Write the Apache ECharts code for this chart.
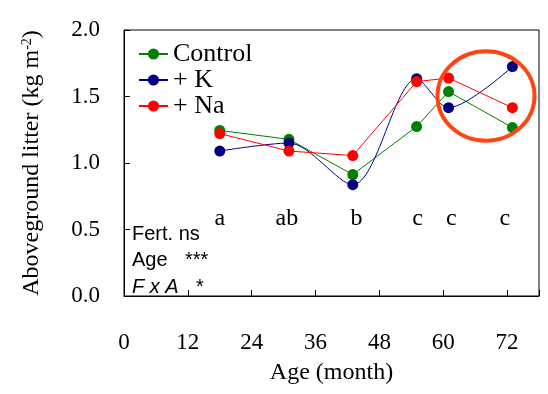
<!DOCTYPE html>
<html>
<head>
<meta charset="utf-8">
<script src="https://cdn.jsdelivr.net/npm/echarts@6/dist/echarts.min.js"></script>
<style>
  html, body { margin: 0; padding: 0; background: #fff; }
  #chart { width: 548px; height: 394px; }
</style>
</head>
<body>
<div id="chart"></div>
<script>
// ages (month) of the sampled stands
const ages = [18, 31, 43, 55, 61, 73]
const control = [1.245, 1.178, 0.913, 1.274, 1.537, 1.266]
const plusK = [1.090, 1.150, 0.837, 1.634, 1.416, 1.725]
const plusNa = [1.221, 1.090, 1.056, 1.612, 1.639, 1.416]

// significance letters above the age groups
const letterAges = [18, 30.6, 43.7, 55.2, 61.5, 71.6]
const letters = ['a', 'ab', 'b', 'c', 'c', 'c']
const letterY = 0.58

const xTicks = [0, 12, 24, 36, 48, 60, 72]

const serif = '"Liberation Serif", "Times New Roman", serif'
const sans = '"Liberation Sans", Arial, sans-serif'

const pairs = vals => ages.map((a, i) => [a, vals[i]])

const chart = echarts.init(document.getElementById('chart'))

const lineSeries = (name, vals, color, smooth) => ({
  name: name,
  type: 'line',
  data: pairs(vals),
  smooth: smooth,
  symbol: 'circle',
  symbolSize: 11,
  color: color,
  lineStyle: { width: 1, color: color },
  itemStyle: { color: color },
  z: 3
})

const annot = (text, x, y, italic) => ({
  type: 'text',
  left: x,
  top: y,
  style: {
    text: text,
    fill: '#000',
    font: (italic ? 'italic ' : '') + '20px ' + sans
  },
  z: 10
})

chart.setOption({
  animation: false,
  grid: {
    left: 124, right: 9, top: 30, bottom: 98,
    show: true, borderColor: '#000', borderWidth: 1
  },
  legend: {
    data: ['Control', '+ K', '+ Na'],
    orient: 'vertical',
    left: 138,
    top: 41,
    padding: 0,
    itemWidth: 29,
    itemHeight: 14,
    itemGap: 0,
    textStyle: { fontFamily: serif, fontSize: 26, lineHeight: 25.5, color: '#000' }
  },
  xAxis: {
    type: 'value',
    min: 0, max: 78, interval: 12,
    name: 'Age (month)',
    nameLocation: 'middle',
    nameGap: 65,
    nameTextStyle: { fontFamily: serif, fontSize: 24, color: '#000' },
    axisLine: { lineStyle: { color: '#000', width: 1 } },
    axisTick: { inside: true, length: 6, lineStyle: { color: '#000' } },
    axisLabel: {
      margin: 35,
      fontFamily: serif, fontSize: 23, color: '#000',
      formatter: v => (xTicks.indexOf(v) >= 0 ? String(v) : '')
    },
    splitLine: { show: false }
  },
  yAxis: {
    type: 'value',
    min: 0, max: 2, interval: 0.5,
    name: '{a|Aboveground litter (kg m}{s|-2}{a|)}',
    nameLocation: 'middle',
    nameGap: 80,
    nameTextStyle: {
      rich: {
        a: { fontFamily: serif, fontSize: 24, color: '#000', lineHeight: 24 },
        s: { fontFamily: serif, fontSize: 14, color: '#000', lineHeight: 14, verticalAlign: 'top' }
      }
    },
    axisLine: { lineStyle: { color: '#000', width: 1 } },
    axisTick: { inside: true, length: 6, lineStyle: { color: '#000' } },
    axisLabel: {
      margin: 24,
      fontFamily: serif, fontSize: 23, color: '#000',
      formatter: v => v.toFixed(1)
    },
    splitLine: { show: false }
  },
  series: [
    lineSeries('Control', control, '#008000', false),
    lineSeries('+ K', plusK, '#000080', 0.3),
    lineSeries('+ Na', plusNa, '#ff0000', false),
    {
      name: 'letters',
      type: 'custom',
      data: letterAges.map((a, i) => [a, letterY, i]),
      silent: true,
      renderItem: (params, api) => {
        const pt = api.coord([api.value(0), api.value(1)])
        return {
          type: 'text',
          x: pt[0],
          y: pt[1],
          style: {
            text: letters[api.value(2)],
            fill: '#000',
            font: '24px ' + serif,
            align: 'center',
            verticalAlign: 'middle'
          }
        }
      }
    }
  ],
  graphic: [
    annot('Fert. ns', 132, 224),
    annot('Age', 132, 250),
    annot('***', 185, 250),
    annot('F x A', 132, 277, true),
    annot('*', 196, 277),
    {
      type: 'ellipse',
      shape: { cx: 486, cy: 96, rx: 48.5, ry: 44.7 },
      style: { fill: 'none', stroke: '#ff4514', lineWidth: 4 },
      z: 20
    }
  ]
})
</script>
</body>
</html>
